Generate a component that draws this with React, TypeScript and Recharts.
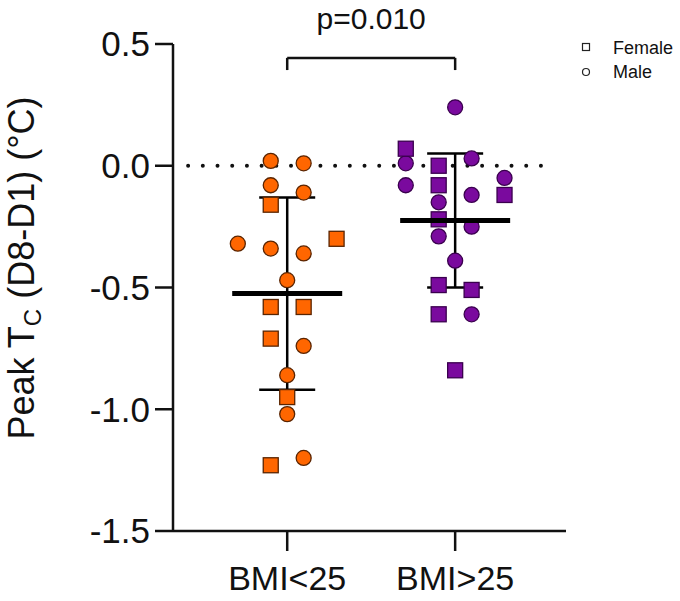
import React from 'react';
import { ComposedChart, Scatter, XAxis, YAxis, ReferenceLine, ErrorBar } from 'recharts';

const groups = ['BMI<25', 'BMI>25'];
const groupFill = ['#FF6600', '#7A0A9E'];
const groupEdge = ['#5a2400', '#3a004e'];

// BMI<25 — values and jitter slot of each dot
const leanMaleValues = [0.02, 0.01, -0.08, -0.11, -0.32, -0.34, -0.36, -0.47, -0.74, -0.86, -1.02, -1.2];
const leanMaleSlots = [-1, 1, -1, 1, -3, -1, 1, 0, 1, 0, 0, 1];
const leanFemaleValues = [-0.16, -0.3, -0.58, -0.58, -0.71, -0.95, -1.23];
const leanFemaleSlots = [-1, 3, -1, 1, -1, 0, -1];

// BMI>25
const heavyMaleValues = [0.24, 0.01, -0.08, -0.15, -0.29, 0.03, -0.12, -0.25, -0.05, -0.39, -0.61];
const heavyMaleSlots = [0, -3, -3, -1, -1, 1, 1, 1, 3, 0, 1];
const heavyFemaleValues = [0.07, 0.0, -0.08, -0.22, -0.12, -0.49, -0.51, -0.61, -0.84];
const heavyFemaleSlots = [-3, -1, -1, -1, 3, -1, 1, -1, 0];

const groupMeans = [-0.525, -0.225];
const groupSds = [0.395, 0.275];
const yTicks = [0.5, 0, -0.5, -1, -1.5];
const pText = 'p=0.010';

const SLOT = 0.098;
const FONT = '"Liberation Sans", Arial, Helvetica, sans-serif';

const toPoints = (values: number[], slots: number[], g: number) =>
  values.map((v, i) => ({ x: g + 1 + slots[i] * SLOT, y: v }));

const meanData = groupMeans.map((m, i) => ({ x: i + 1, y: m, sd: groupSds[i] }));

const circleShape = (g: number) => (p: any) => (
  <circle cx={p.cx} cy={p.cy} r={7.5} fill={groupFill[g]} stroke={groupEdge[g]} strokeWidth={1.3} />
);
const squareShape = (g: number) => (p: any) => (
  <rect x={p.cx - 7.5} y={p.cy - 7.5} width={15} height={15} fill={groupFill[g]} stroke={groupEdge[g]} strokeWidth={1.3} />
);
const meanShape = (p: any) => (
  <line x1={p.cx - 55} x2={p.cx + 55} y1={p.cy} y2={p.cy} stroke="#000" strokeWidth={5} />
);

const renderYLabel = () => (
  <text x={34} y={268} transform="rotate(-90, 34, 268)" textAnchor="middle" fontSize={36} fontFamily={FONT} fill="#111">
    Peak T
    <tspan fontSize={24} dy={7}>C</tspan>
    <tspan dy={-7}> (D8-D1) (°C)</tspan>
  </text>
);

export default function App() {
  return (
    <div style={{ position: 'absolute', left: 0, top: 0, width: 680, height: 601, background: '#fff' }}>
      <ComposedChart width={680} height={601} margin={{ top: 44, right: 114, bottom: 0, left: 0 }}>
        <XAxis
          dataKey="x"
          type="number"
          domain={[0.32, 2.66]}
          ticks={[1, 2]}
          allowDataOverflow
          height={70}
          tickFormatter={(v: number) => groups[v - 1]}
          tickSize={20}
          tickMargin={15}
          axisLine={{ stroke: '#111', strokeWidth: 2.5 }}
          tickLine={{ stroke: '#111', strokeWidth: 2.5 }}
          tick={{ fontSize: 34, fontFamily: FONT, fill: '#111' }}
        />
        <YAxis
          dataKey="y"
          type="number"
          domain={[-1.5, 0.5]}
          ticks={yTicks}
          allowDataOverflow
          width={173}
          tickFormatter={(v: number) => v.toFixed(1)}
          tickSize={18}
          tickMargin={5}
          axisLine={{ stroke: '#111', strokeWidth: 2.5 }}
          tickLine={{ stroke: '#111', strokeWidth: 2.5 }}
          tick={{ fontSize: 35, fontFamily: FONT, fill: '#111' }}
          label={renderYLabel}
        />
        <ReferenceLine
          segment={[{ x: 0.41, y: 0 }, { x: 2.595, y: 0 }]}
          stroke="#111"
          strokeWidth={4}
          strokeDasharray="0 14.7"
          strokeLinecap="round"
        />
        <ReferenceLine
          segment={[{ x: 1, y: 0.443 }, { x: 2, y: 0.443 }]}
          stroke="#111"
          strokeWidth={2.5}
          label={{ value: pText, position: 'top', offset: 29, fontSize: 30, fontFamily: FONT, fill: '#111' }}
        />
        <ReferenceLine segment={[{ x: 1, y: 0.443 }, { x: 1, y: 0.393 }]} stroke="#111" strokeWidth={2.5} />
        <ReferenceLine segment={[{ x: 2, y: 0.443 }, { x: 2, y: 0.393 }]} stroke="#111" strokeWidth={2.5} />

        <Scatter data={toPoints(leanMaleValues, leanMaleSlots, 0)} shape={circleShape(0)} isAnimationActive={false} />
        <Scatter data={toPoints(leanFemaleValues, leanFemaleSlots, 0)} shape={squareShape(0)} isAnimationActive={false} />
        <Scatter data={toPoints(heavyMaleValues, heavyMaleSlots, 1)} shape={circleShape(1)} isAnimationActive={false} />
        <Scatter data={toPoints(heavyFemaleValues, heavyFemaleSlots, 1)} shape={squareShape(1)} isAnimationActive={false} />

        <Scatter data={meanData} shape={meanShape} isAnimationActive={false}>
          <ErrorBar dataKey="sd" direction="y" width={28} stroke="#000" strokeWidth={2.5} isAnimationActive={false} />
        </Scatter>
      </ComposedChart>

      <svg width={680} height={601} style={{ position: 'absolute', left: 0, top: 0, pointerEvents: 'none' }}>
        <rect x={582.5} y={43.5} width={7} height={7} fill="none" stroke="#222" strokeWidth={1.2} />
        <text x={613} y={54} fontSize={18} fontFamily={FONT} fill="#111">Female</text>
        <circle cx={586} cy={72} r={3.5} fill="none" stroke="#222" strokeWidth={1.2} />
        <text x={613} y={78} fontSize={18} fontFamily={FONT} fill="#111">Male</text>
      </svg>
    </div>
  );
}
